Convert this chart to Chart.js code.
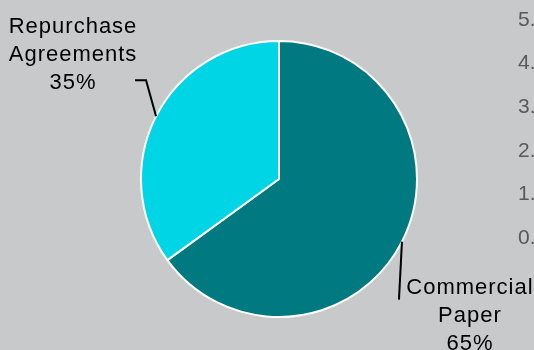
<!DOCTYPE html>
<html>
<head>
<meta charset="utf-8">
<script src="https://cdn.jsdelivr.net/npm/chart.js@4.4.1/dist/chart.umd.min.js"></script>
<style>
  html, body { margin: 0; padding: 0; overflow: hidden; background: #c8c9ca; }
  #wrap { position: relative; width: 534px; height: 350px; overflow: hidden; }
  #pie { position: absolute; left: 0; top: 0; }
  #axis { position: absolute; left: 518px; top: 0; }
</style>
</head>
<body>
<div id="wrap">
  <canvas id="pie" width="534" height="350"></canvas>
  <canvas id="axis" width="80" height="350"></canvas>
</div>
<script>
const categories = ["Commercial Paper", "Repurchase Agreements"]
const shares = [65, 35]
const colors = ["#007a80", "#00d5e6"]

const axisMin = 0
const axisMax = 5
const axisStep = 1

const labelFont = "22px 'Liberation Sans', Arial, sans-serif"

// where each callout goes, relative to the point on the rim at the slice middle
const callouts = [
  { leader: [[-3, 58]], textX: 68, baselines: [52, 80, 108] },
  { leader: [[-10, -36], [-21, -36]], textX: -83, baselines: [-83, -55, -27] }
]

const calloutPlugin = {
  id: "callouts",
  afterDatasetsDraw(chart) {
    const ctx = chart.ctx
    const meta = chart.getDatasetMeta(0)
    const total = shares.reduce((a, b) => a + b, 0)
    meta.data.forEach((arc, i) => {
      const p = arc.getProps(["x", "y", "startAngle", "endAngle", "outerRadius"], true)
      const mid = (p.startAngle + p.endAngle) / 2
      const ex = p.x + Math.cos(mid) * p.outerRadius
      const ey = p.y + Math.sin(mid) * p.outerRadius
      const c = callouts[i]

      ctx.save()
      ctx.strokeStyle = "#000"
      ctx.lineWidth = 2
      ctx.beginPath()
      ctx.moveTo(ex, ey)
      c.leader.forEach(([dx, dy]) => ctx.lineTo(ex + dx, ey + dy))
      ctx.stroke()

      const words = categories[i].split(" ")
      const lines = [...words, Math.round(shares[i] / total * 100) + "%"]
      ctx.fillStyle = "#000"
      ctx.font = labelFont
      ctx.letterSpacing = "1px"
      ctx.textAlign = "center"
      ctx.textBaseline = "alphabetic"
      lines.forEach((line, j) => ctx.fillText(line, ex + c.textX, ey + c.baselines[j]))
      ctx.restore()
    })
  }
}

new Chart(document.getElementById("pie").getContext("2d"), {
  type: "pie",
  data: {
    labels: categories,
    datasets: [{
      data: shares,
      backgroundColor: colors,
      borderColor: "#ffffff",
      borderWidth: 2
    }]
  },
  options: {
    responsive: false,
    animation: false,
    layout: { padding: { top: 40, bottom: 32, left: 79, right: 55 } },
    plugins: {
      legend: { display: false },
      tooltip: { enabled: false }
    }
  },
  plugins: [calloutPlugin]
})

// leftover value axis, cut off by the right edge
new Chart(document.getElementById("axis").getContext("2d"), {
  type: "bar",
  data: { labels: [""], datasets: [{ data: [] }] },
  options: {
    responsive: false,
    animation: false,
    layout: { padding: { top: 20, bottom: 112, left: 0, right: 0 } },
    plugins: { legend: { display: false }, tooltip: { enabled: false } },
    scales: {
      x: { display: false },
      y: {
        position: "left",
        min: axisMin,
        max: axisMax,
        grid: { display: false },
        border: { display: false },
        ticks: {
          stepSize: axisStep,
          padding: 0,
          color: "#595959",
          font: { family: "'Liberation Sans', Arial, sans-serif", size: 21 },
          callback: v => v.toFixed(1)
        }
      }
    }
  }
})
</script>
</body>
</html>
